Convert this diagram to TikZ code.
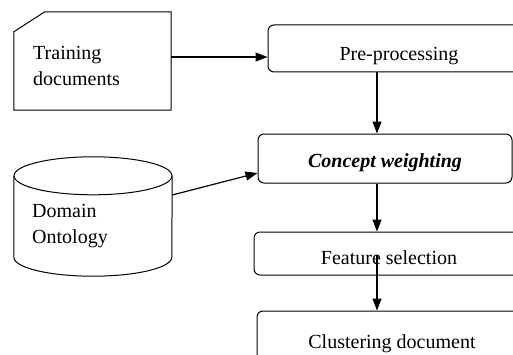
\documentclass[tikz,border=0pt]{standalone}
\usepackage{fontspec}
\setmainfont{Liberation Serif}
\usetikzlibrary{arrows.meta}
\begin{document}
\begin{tikzpicture}[x=1pt,y=1pt,
  every node/.style={font=\fontsize{20}{26}\selectfont},
  procbox/.style={draw, line width=1pt, rounded corners=6pt, inner sep=0pt, text depth=5pt},
  shapeline/.style={draw, line width=1pt},
  conn/.style={line width=1.2pt, -{Triangle[length=12pt,width=9pt]}}]
\useasboundingbox (0,0) rectangle (513,354);
\clip (0,0) rectangle (513,354);
% training documents
\node[inner sep=0pt, minimum width=157pt, minimum height=98pt] (train) at (92.5,293) {};
\draw[shapeline] (train.south west) -- (train.south east) -- (train.north east)
  -- ([xshift=31pt]train.north west) -- ([yshift=-20pt]train.north west) -- cycle;
\node[anchor=west, align=left, inner sep=0pt] (trainlbl) at (33,288) {Training\\documents};
% domain ontology cylinder
\node[inner sep=0pt, minimum width=158pt, minimum height=81pt] (onto) at (93,137.5) {};
\draw[shapeline] (onto.north) ellipse[x radius=79, y radius=19];
\draw[shapeline] (onto.north west) -- (onto.south west)
  arc[start angle=180, end angle=360, x radius=79, y radius=19] -- (onto.north east);
\node[anchor=west, align=left, inner sep=0pt] (ontolbl) at (32,128) {Domain\\Ontology};
% process boxes
\node[procbox, text height=30pt, minimum width=262pt, minimum height=47pt] (pre) at (399,305.5) {Pre-processing};
\node[procbox, text height=22pt, minimum width=254pt, minimum height=49pt] (concept) at (385,195.5) {\bfseries\itshape Concept weighting};
\node[procbox, text height=26pt, minimum width=270pt, minimum height=43pt] (feat) at (389,100.5) {Feature selection};
\node[procbox, text height=15pt, minimum width=270pt, minimum height=64pt] (clust) at (392,11) {Clustering document};
% connectors
\coordinate (h1) at (0,297);
\coordinate (vx) at (377,0);
\coordinate (c1) at (0,159);
\coordinate (c2) at (0,181);
\coordinate (f1) at (0,99);
\draw[conn] (train.east |- h1) -- (pre.west |- h1);
\draw[conn] (pre.south -| vx) -- (concept.north -| vx);
\draw[conn] (concept.south -| vx) -- (feat.north -| vx);
\draw[conn] (vx |- f1) -- (clust.north -| vx);
\draw[conn] (onto.east |- c1) -- (concept.west |- c2);
\end{tikzpicture}
\end{document}
